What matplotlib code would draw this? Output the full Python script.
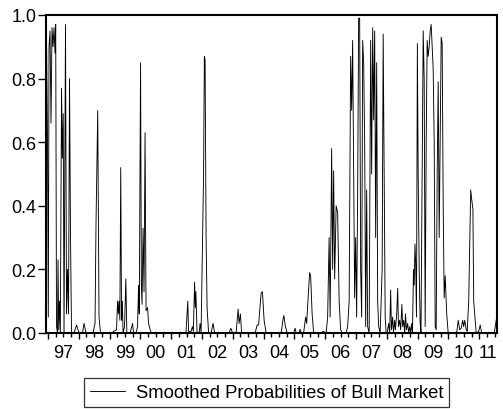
import matplotlib
matplotlib.use("Agg")
import matplotlib.pyplot as plt
import numpy as np

# decimal years
dates = [
    1996.929, 1996.955, 1996.987, 1997.013, 1997.036, 1997.068, 1997.101, 1997.133,
    1997.166, 1997.198, 1997.231, 1997.253, 1997.279, 1997.312, 1997.328, 1997.351,
    1997.377, 1997.403, 1997.442, 1997.468, 1997.497, 1997.523, 1997.571, 1997.604,
    1997.636, 1997.669, 1997.701, 1997.734, 1997.766, 1997.847, 1997.929, 1998.010,
    1998.123, 1998.172, 1998.237, 1998.464, 1998.529, 1998.562, 1998.617, 1998.659,
    1998.708, 1999.081, 1999.130, 1999.227, 1999.260, 1999.286, 1999.309, 1999.335,
    1999.364, 1999.390, 1999.416, 1999.439, 1999.487, 1999.529, 1999.562, 1999.666,
    1999.747, 1999.779, 1999.861, 1999.909, 1999.942, 1999.965, 2000.007, 2000.033,
    2000.055, 2000.088, 2000.120, 2000.153, 2000.185, 2000.234, 2000.267, 2000.348,
    2001.452, 2001.484, 2001.539, 2001.565, 2001.647, 2001.689, 2001.721, 2001.760,
    2001.783, 2001.802, 2001.841, 2001.906, 2001.939, 2001.971, 2002.052, 2002.078,
    2002.101, 2002.134, 2002.166, 2002.215, 2002.296, 2002.361, 2002.410, 2002.880,
    2002.936, 2002.994, 2003.108, 2003.173, 2003.205, 2003.247, 2003.286, 2003.725,
    2003.790, 2003.838, 2003.919, 2003.962, 2004.017, 2004.082, 2004.569, 2004.634,
    2004.660, 2004.699, 2004.764, 2004.975, 2005.023, 2005.056, 2005.153, 2005.186,
    2005.218, 2005.299, 2005.364, 2005.397, 2005.494, 2005.527, 2005.575, 2005.624,
    2005.868, 2005.933, 2006.030, 2006.079, 2006.127, 2006.160, 2006.209, 2006.241,
    2006.273, 2006.306, 2006.355, 2006.403, 2006.452, 2006.501, 2006.549, 2006.679,
    2006.728, 2006.777, 2006.825, 2006.858, 2006.890, 2006.923, 2006.955, 2006.988,
    2007.020, 2007.053, 2007.085, 2007.118, 2007.150, 2007.183, 2007.215, 2007.248,
    2007.280, 2007.313, 2007.345, 2007.377, 2007.426, 2007.475, 2007.507, 2007.540,
    2007.572, 2007.605, 2007.637, 2007.670, 2007.702, 2007.735, 2007.783, 2007.848,
    2007.881, 2007.913, 2007.946, 2007.978, 2008.011, 2008.059, 2008.092, 2008.124,
    2008.150, 2008.189, 2008.215, 2008.254, 2008.280, 2008.319, 2008.352, 2008.378,
    2008.417, 2008.449, 2008.488, 2008.514, 2008.546, 2008.579, 2008.605, 2008.637,
    2008.676, 2008.709, 2008.741, 2008.774, 2008.806, 2008.832, 2008.865, 2008.887,
    2008.913, 2008.936, 2008.962, 2008.991, 2009.017, 2009.050, 2009.082, 2009.108,
    2009.147, 2009.180, 2009.212, 2009.244, 2009.277, 2009.309, 2009.342, 2009.374,
    2009.407, 2009.439, 2009.472, 2009.504, 2009.537, 2009.569, 2009.602, 2009.634,
    2009.667, 2009.699, 2009.731, 2009.764, 2009.796, 2009.829, 2009.861, 2009.894,
    2009.943, 2009.991, 2010.218, 2010.274, 2010.316, 2010.365, 2010.413, 2010.462,
    2010.494, 2010.527, 2010.576, 2010.608, 2010.657, 2010.722, 2010.754, 2010.793,
    2010.819, 2010.852, 2010.900, 2010.982, 2011.030, 2011.079, 2011.485, 2011.566,
]

prob = [
    0.85, 0.93, 0.60, 0.05, 0.90, 0.95, 0.66, 0.96,
    0.90, 0.96, 0.88, 0.97, 0.02, 0.00, 0.23, 0.01,
    0.10, 0.00, 0.77, 0.55, 0.69, 0.00, 0.97, 0.06,
    0.20, 0.06, 0.80, 0.30, 0.00, 0.00, 0.025, 0.00,
    0.00, 0.03, 0.00, 0.00, 0.03, 0.35, 0.70, 0.05,
    0.00, 0.00, 0.005, 0.01, 0.10, 0.06, 0.10, 0.04,
    0.52, 0.04, 0.10, 0.00, 0.02, 0.17, 0.00, 0.00,
    0.03, 0.00, 0.00, 0.02, 0.15, 0.06, 0.85, 0.15,
    0.09, 0.33, 0.13, 0.63, 0.07, 0.08, 0.03, 0.00,
    0.00, 0.005, 0.10, 0.005, 0.005, 0.02, 0.005, 0.16,
    0.08, 0.13, 0.00, 0.00, 0.03, 0.00, 0.50, 0.87,
    0.86, 0.30, 0.08, 0.00, 0.00, 0.03, 0.00, 0.00,
    0.015, 0.00, 0.00, 0.075, 0.03, 0.06, 0.00, 0.00,
    0.025, 0.025, 0.125, 0.13, 0.04, 0.00, 0.00, 0.045,
    0.055, 0.025, 0.00, 0.00, 0.015, 0.00, 0.00, 0.012,
    0.00, 0.00, 0.05, 0.03, 0.19, 0.18, 0.06, 0.00,
    0.00, 0.005, 0.00, 0.05, 0.30, 0.05, 0.58, 0.20,
    0.51, 0.17, 0.40, 0.38, 0.10, 0.01, 0.00, 0.00,
    0.02, 0.10, 0.87, 0.70, 0.92, 0.50, 0.11, 0.30,
    0.05, 0.45, 0.99, 0.99, 0.20, 0.05, 0.92, 0.85,
    0.60, 0.02, 0.45, 0.02, 0.00, 0.92, 0.50, 0.96,
    0.67, 0.95, 0.30, 0.85, 0.10, 0.02, 0.00, 0.20,
    0.94, 0.48, 0.05, 0.00, 0.00, 0.03, 0.00, 0.135,
    0.01, 0.05, 0.00, 0.04, 0.01, 0.06, 0.14, 0.02,
    0.04, 0.01, 0.09, 0.02, 0.04, 0.00, 0.06, 0.01,
    0.03, 0.00, 0.02, 0.00, 0.03, 0.00, 0.20, 0.15,
    0.28, 0.22, 0.05, 0.91, 0.50, 0.20, 0.03, 0.00,
    0.50, 0.95, 0.80, 0.02, 0.60, 0.92, 0.87, 0.90,
    0.95, 0.97, 0.90, 0.83, 0.60, 0.02, 0.01, 0.50,
    0.79, 0.30, 0.60, 0.93, 0.91, 0.40, 0.11, 0.18,
    0.06, 0.00, 0.00, 0.005, 0.04, 0.01, 0.015, 0.04,
    0.02, 0.04, 0.01, 0.005, 0.10, 0.45, 0.42, 0.39,
    0.10, 0.06, 0.00, 0.005, 0.025, 0.00, 0.00, 0.05,
]

years = list(range(1997, 2012))
year_labels = ["97", "98", "99", "00", "01", "02", "03", "04",
               "05", "06", "07", "08", "09", "10", "11"]

plt.rcParams["font.family"] = ["Liberation Sans", "DejaVu Sans"]

fig = plt.figure(figsize=(5.03, 4.10), dpi=100)
ax = fig.add_axes([0.0909, 0.1854, 0.8966, 0.7756])

ax.plot(dates, prob, color="black", linewidth=0.65,
        label="Smoothed Probabilities of Bull Market")

x0, x1 = dates[0], dates[-1]
ax.set_xlim(x0, x1)
ax.set_ylim(0.0, 1.0)

ax.set_yticks(np.arange(0.0, 1.01, 0.2))
ax.set_yticklabels(["%.1f" % v for v in np.arange(0.0, 1.01, 0.2)], fontsize=13)
ax.tick_params(axis="y", direction="out", length=5.8, width=1, pad=1, right=False)

ax.set_xticks([y for y in years if x0 <= y <= x1])
ax.set_xticklabels([])
quarters = [y + q for y in range(1996, 2012) for q in (0.25, 0.5, 0.75)
            if x0 <= y + q <= x1]
ax.set_xticks(quarters, minor=True)
ax.tick_params(axis="x", which="major", direction="out", length=4.3, width=1, top=False)
ax.tick_params(axis="x", which="minor", direction="out", length=2.7, width=1, top=False)

for y, lab in zip(years, year_labels):
    xc = (y + min(y + 1, x1)) / 2.0
    ax.text(xc, -0.035, lab, transform=ax.get_xaxis_transform(),
            ha="center", va="top", fontsize=13)

for s in ax.spines.values():
    s.set_linewidth(1.5)

leg = ax.legend(loc="upper center", bbox_to_anchor=(0.49, -0.143), fontsize=13.3,
                frameon=True, fancybox=False, edgecolor="black",
                handlelength=1.9, borderpad=0.3, handletextpad=0.6,
                borderaxespad=0)
leg.get_frame().set_linewidth(0.9)

fig.savefig("out.png", dpi=100)
plt.close(fig)
